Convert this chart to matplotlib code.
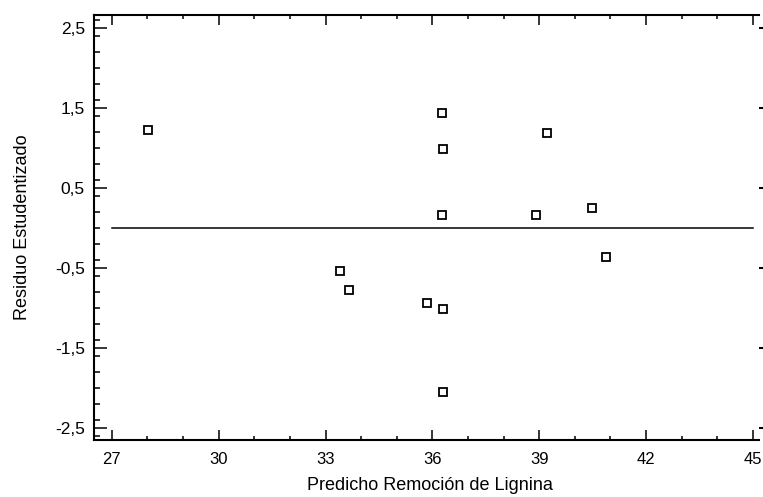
import matplotlib
matplotlib.use("Agg")
import matplotlib.pyplot as plt
from matplotlib.ticker import MultipleLocator, FuncFormatter

plt.rcParams['font.family'] = ['Liberation Sans', 'DejaVu Sans']

# Residuos estudentizados vs. predicho
predicho = [28.01, 36.28, 36.29, 36.28, 39.21, 38.92, 40.49, 40.88,
            33.41, 33.66, 35.84, 36.29, 36.29]
residuo = [1.22, 1.44, 0.99, 0.16, 1.19, 0.16, 0.25, -0.36,
           -0.54, -0.77, -0.94, -1.01, -2.05]
linea_x = [27, 45]
linea_y = [0, 0]
x_ticks = [27, 30, 33, 36, 39, 42, 45]
y_ticks = [-2.5, -1.5, -0.5, 0.5, 1.5, 2.5]

fig = plt.figure(figsize=(7.63, 4.97), dpi=100)
ax = fig.add_axes([94 / 763, 57 / 497, 665 / 763, 425 / 497])

ax.plot(linea_x, linea_y, color='black', linewidth=1.1)
ax.plot(predicho, residuo, linestyle='none', marker='s', markersize=5.5,
        markerfacecolor='white', markeredgecolor='black', markeredgewidth=1.3)

ax.set_xlim(26.5, 45.17)
ax.set_ylim(-2.65, 2.66)
ax.set_xticks(x_ticks)
ax.set_yticks(y_ticks)
ax.xaxis.set_minor_locator(MultipleLocator(1))
ax.yaxis.set_minor_locator(MultipleLocator(0.2))
ax.yaxis.set_major_formatter(FuncFormatter(lambda v, p: f"{v:.1f}".replace('.', ',')))

for s in ['left', 'bottom', 'top']:
    ax.spines[s].set_linewidth(1.5)
ax.spines['right'].set_visible(False)

ax.tick_params(axis='x', which='major', direction='in', top=True, length=7, width=1.1,
               labelsize=12, pad=8.5)
ax.tick_params(axis='x', which='minor', direction='in', top=True, length=3, width=1.1)
ax.tick_params(axis='y', which='major', direction='in', length=9, width=1.1,
               labelsize=12.5, pad=6.5)
ax.tick_params(axis='y', which='minor', direction='in', length=4.5, width=1.1)

# marcas cortas del lado derecho
sec = ax.secondary_yaxis('right')
sec.set_yticks(y_ticks)
sec.set_yticklabels([])
sec.tick_params(direction='out', length=3, width=1.5)
sec.spines['right'].set_visible(False)

ax.set_xlabel("Predicho Remoción de Lignina", fontsize=13)
ax.xaxis.set_label_coords(0.505, -0.088, transform=ax.transAxes)
ax.xaxis.label.set_va('top')
ax.set_ylabel("Residuo Estudentizado", fontsize=13, labelpad=17)

fig.savefig("out.png", dpi=100)
